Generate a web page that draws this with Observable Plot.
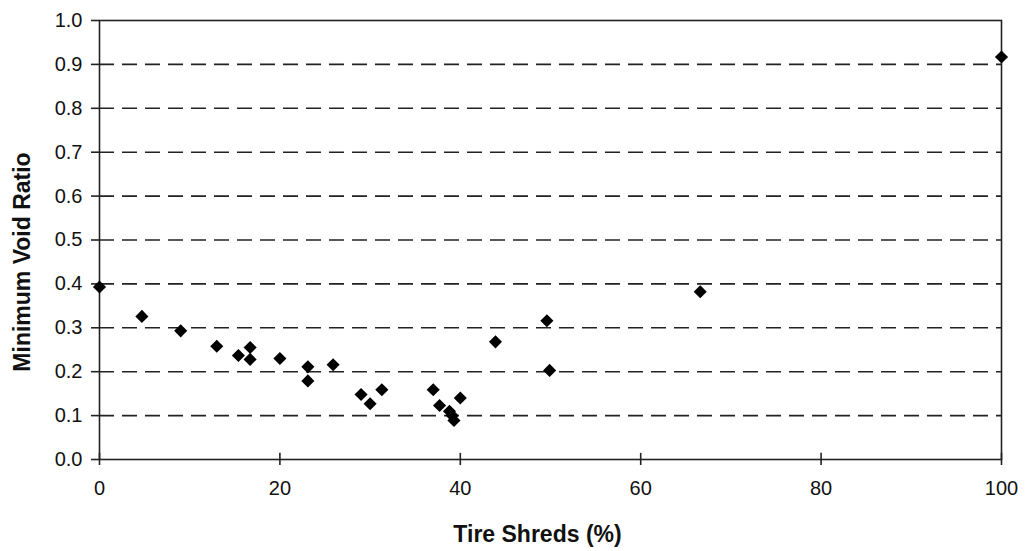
<!DOCTYPE html>
<html>
<head>
<meta charset="utf-8">
<script src="https://cdn.jsdelivr.net/npm/d3@7"></script>
<script src="https://cdn.jsdelivr.net/npm/@observablehq/plot@0.6"></script>
<style>
  html, body { margin: 0; padding: 0; background: #fff; }
  svg { font-family: "Liberation Sans", Arial, sans-serif; }
</style>
</head>
<body>
<div id="chart"></div>
<script>
const tireShreds = [0, 4.7, 9.0, 13.0, 15.4, 16.7, 16.7, 20.0, 23.1, 23.1, 25.9, 29.0, 30.0, 31.3, 37.0, 37.7, 38.8, 39.1, 39.3, 40.0, 43.9, 49.6, 49.9, 66.6, 100];
const minVoidRatio = [0.393, 0.326, 0.293, 0.258, 0.237, 0.255, 0.228, 0.230, 0.211, 0.179, 0.216, 0.148, 0.127, 0.159, 0.159, 0.123, 0.110, 0.100, 0.089, 0.140, 0.268, 0.316, 0.203, 0.382, 0.917];
const xTicks = [0, 20, 40, 60, 80, 100];
const yTicks = [0, 0.1, 0.2, 0.3, 0.4, 0.5, 0.6, 0.7, 0.8, 0.9, 1.0];
const gridLines = [0.1, 0.2, 0.3, 0.4, 0.5, 0.6, 0.7, 0.8, 0.9];
const xLabel = "Tire Shreds (%)";
const yLabel = "Minimum Void Ratio";

const data = tireShreds.map((x, i) => ({x, y: minVoidRatio[i]}));

const chart = Plot.plot({
  width: 1026,
  height: 551,
  marginLeft: 99,
  marginRight: 25,
  marginTop: 20,
  marginBottom: 92,
  x: {domain: [0, 100]},
  y: {domain: [0, 1]},
  style: {fontFamily: "'Liberation Sans', Arial, sans-serif", color: "#111", background: "#fff"},
  marks: [
    Plot.ruleY(gridLines, {stroke: "#222", strokeWidth: 1.6, strokeDasharray: "15,8"}),
    Plot.frame({stroke: "#222", strokeWidth: 1.6}),
    Plot.axisY({ticks: yTicks, tickFormat: d => d.toFixed(1), tickSize: 8, tickPadding: 9,
      fontSize: 20, label: null, stroke: "#222", strokeWidth: 1.6}),
    Plot.axisX({ticks: xTicks, tickFormat: d => String(d), tickSize: 6, tickPadding: 15,
      fontSize: 20, label: null, stroke: "#222", strokeWidth: 1.6}),
    Plot.ruleX(xTicks, {y1: 0, y2: 0.014, stroke: "#222", strokeWidth: 1.6}),
    Plot.text([xLabel], {frameAnchor: "bottom", dy: 82, dx: -13, fontSize: 23, fontWeight: "bold", fill: "#111"}),
    Plot.text([yLabel], {frameAnchor: "left", textAnchor: "middle", dx: -77, dy: 22, rotate: -90, fontSize: 23, fontWeight: "bold", fill: "#111"}),
    Plot.dot(data, {x: "x", y: "y", symbol: "diamond2", r: 5.9, fill: "#000", stroke: "none"})
  ]
});
document.getElementById("chart").appendChild(chart);
</script>
</body>
</html>
